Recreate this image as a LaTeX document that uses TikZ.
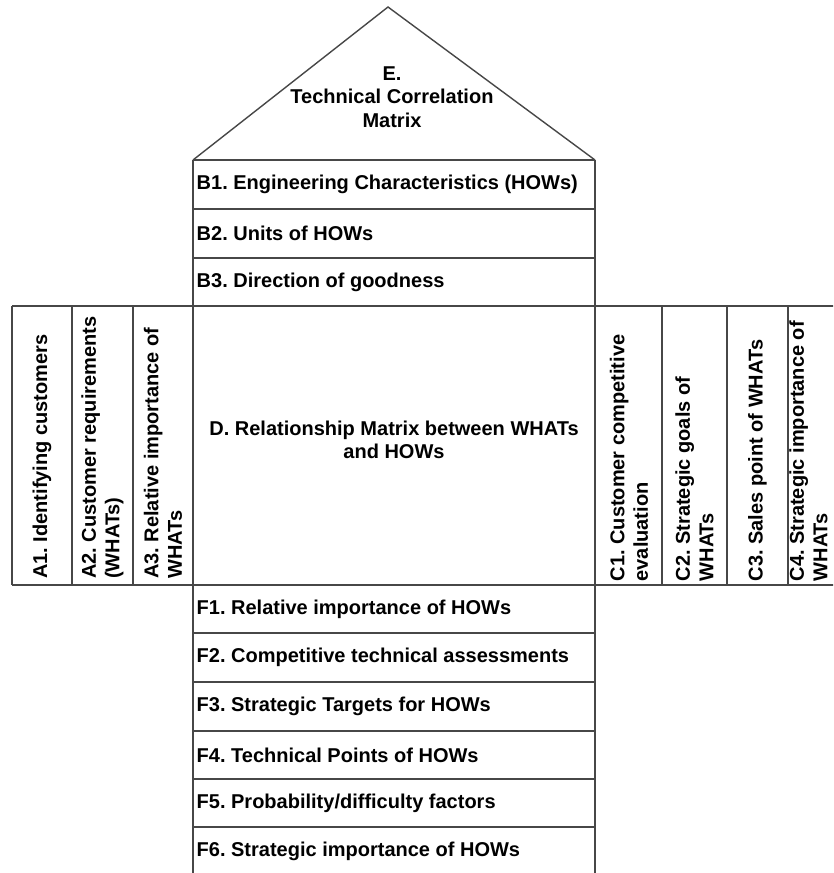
\documentclass[tikz,border=0pt]{standalone}
\usepackage{fontspec}
\setmainfont{Liberation Sans}
\frenchspacing
\begin{document}
\begin{tikzpicture}[x=1pt,y=-1pt,
  frame/.style={draw=black!72, line width=1.4pt, line join=miter},
  lbl/.style={font=\bfseries\fontsize{20}{23.5}\selectfont, text=black, inner sep=0pt},
  rowlbl/.style={lbl, anchor=west, inner xsep=3.5pt},
  collbl/.style={lbl, rotate=90, anchor=west, align=left, inner xsep=6pt},
  rcollbl/.style={lbl, rotate=90, anchor=west, align=left, inner xsep=3.5pt}]
\useasboundingbox (0,0) rectangle (833,873);
\fill[white] (0,0) rectangle (833,873);
\clip (0,0) rectangle (833,873);

% roof
\draw[frame] (193,160) -- (388,7) -- (595,160);
% ceiling rows B1-B3
\foreach \y in {160,209,258}
  \draw[frame] (193,\y) -- (595,\y);
% full-width lines bounding the middle band
\draw[frame] (12,306) -- (840,306);
\draw[frame] (12,585) -- (840,585);
% left and right wings
\foreach \x in {12,72,133,662,727,788,836}
  \draw[frame] (\x,306) -- (\x,585);
% central column walls
\draw[frame] (193,160) -- (193,880);
\draw[frame] (595,160) -- (595,880);
% basement rows F1-F6
\foreach \y in {633,682,731,779,827}
  \draw[frame] (193,\y) -- (595,\y);

% roof text
\node[lbl, align=center] (E) at (392,97) {E.\\Technical Correlation\\Matrix};

% ceiling
\node[rowlbl] (B1) at (193,184.5) {B1. Engineering Characteristics (HOWs)};
\node[rowlbl] (B2) at (193,233.5) {B2. Units of HOWs};
\node[rowlbl] (B3) at (193,282) {B3. Direction of goodness};

% relationship matrix
\node[lbl, align=center] (D) at (394,440) {D. Relationship Matrix between WHATs\\and HOWs};

% left wing
\node[collbl] (A1) at (42,585) {A1. Identifying customers};
\node[collbl] (A2) at (102.5,585) {A2. Customer requirements\\(WHATs)};
\node[collbl] (A3) at (163,585) {A3. Relative importance of\\WHATs};

% right wing
\node[rcollbl] (C1) at (629,585) {C1. Customer competitive\\evaluation};
\node[rcollbl] (C2) at (694.5,585) {C2. Strategic goals of\\WHATs};
\node[rcollbl] (C3) at (757.5,585) {C3. Sales point of WHATs};
\node[rcollbl] (C4) at (808.5,585) {C4. Strategic importance of\\WHATs};

% basement
\node[rowlbl] (F1) at (193,609) {F1. Relative importance of HOWs};
\node[rowlbl] (F2) at (193,657.5) {F2. Competitive technical assessments};
\node[rowlbl] (F3) at (193,706.5) {F3. Strategic Targets for HOWs};
\node[rowlbl] (F4) at (193,755) {F4. Technical Points of HOWs};
\node[rowlbl] (F5) at (193,803) {F5. Probability/difficulty factors};
\node[rowlbl] (F6) at (193,851) {F6. Strategic importance of HOWs};
\end{tikzpicture}
\end{document}
